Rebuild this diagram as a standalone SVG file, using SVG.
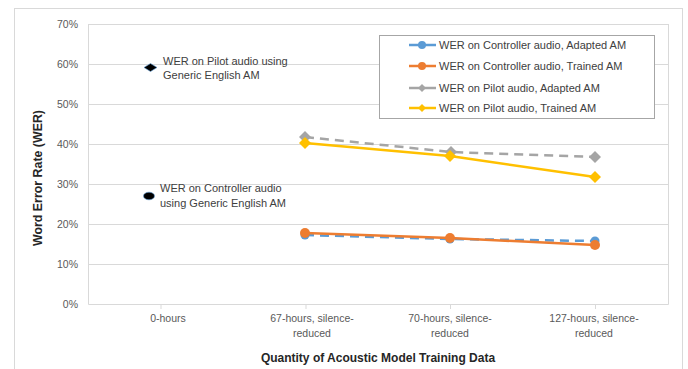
<svg xmlns="http://www.w3.org/2000/svg" width="688" height="369" viewBox="0 0 688 369">
<style>
text{font-family:"Liberation Sans",Arial,sans-serif;font-size:11px;fill:#404040}
.ax{fill:#595959;font-size:10.5px}
.grid{stroke:#D9D9D9;stroke-width:1;fill:none}
.ttl{font-weight:bold;font-size:12px;fill:#262626}
</style>
<defs>
<marker id="mb" markerWidth="10" markerHeight="10" refX="5" refY="5" markerUnits="userSpaceOnUse"><circle cx="5" cy="5" r="4.5" fill="#5B9BD5"/></marker>
<marker id="mo" markerWidth="12" markerHeight="12" refX="6" refY="6" markerUnits="userSpaceOnUse"><circle cx="6" cy="6" r="5" fill="#ED7D31"/></marker>
<marker id="mg" markerWidth="12" markerHeight="12" refX="6" refY="6" markerUnits="userSpaceOnUse"><path d="M0,6 L6,0 L12,6 L6,12 Z" fill="#A5A5A5"/></marker>
<marker id="my" markerWidth="12" markerHeight="12" refX="6" refY="6" markerUnits="userSpaceOnUse"><path d="M0,6 L6,0 L12,6 L6,12 Z" fill="#FFC000"/></marker>
</defs>
<rect x="0" y="0" width="688" height="369" fill="#fff"/>
<rect x="14.5" y="8.5" width="668" height="380" fill="none" stroke="#D9D9D9"/>
<g id="grid">
<path class="grid" d="M88,24.5H668M88,64.5H668M88,104.5H668M88,144.5H668M88,184.5H668M88,224.5H668M88,264.5H668"/>
<path d="M88.5,24V304.5H668.5V24" fill="none" stroke="#D9D9D9"/>
<path d="M161,304V309M306,304V309M450.5,304V309M595.5,304V309" stroke="#D9D9D9"/>
</g>
<g id="yaxis" text-anchor="end">
<text class="ax" x="78" y="28">70%</text>
<text class="ax" x="78" y="68">60%</text>
<text class="ax" x="78" y="108">50%</text>
<text class="ax" x="78" y="148">40%</text>
<text class="ax" x="78" y="188">30%</text>
<text class="ax" x="78" y="228">20%</text>
<text class="ax" x="78" y="268">10%</text>
<text class="ax" x="78" y="308">0%</text>
</g>
<g id="xaxis" text-anchor="middle">
<text class="ax" x="168" y="322">0-hours</text>
<text class="ax" x="312" y="322">67-hours, silence-</text>
<text class="ax" x="312" y="337">reduced</text>
<text class="ax" x="450" y="322">70-hours, silence-</text>
<text class="ax" x="450" y="337">reduced</text>
<text class="ax" x="594" y="322">127-hours, silence-</text>
<text class="ax" x="594" y="337">reduced</text>
</g>
<text class="ttl" x="378" y="362" text-anchor="middle">Quantity of Acoustic Model Training Data</text>
<text class="ttl" transform="translate(42,178) rotate(-90)" text-anchor="middle" textLength="136" lengthAdjust="spacingAndGlyphs">Word Error Rate (WER)</text>
<g id="connectors">
<polyline points="305,137 451,152 595,157" fill="none" stroke="#A5A5A5" stroke-width="2.5" stroke-dasharray="9,6" marker-start="url(#mg)" marker-mid="url(#mg)" marker-end="url(#mg)"/>
<polyline points="305,143 450,156 595,177" fill="none" stroke="#FFC000" stroke-width="2.5" marker-start="url(#my)" marker-mid="url(#my)" marker-end="url(#my)"/>
<polyline points="305,235 450,239 595,241" fill="none" stroke="#5B9BD5" stroke-width="2.5" stroke-dasharray="9,6" marker-start="url(#mb)" marker-mid="url(#mb)" marker-end="url(#mb)"/>
<polyline points="305,233 450,238 595,245" fill="none" stroke="#ED7D31" stroke-width="2.5" marker-start="url(#mo)" marker-mid="url(#mo)" marker-end="url(#mo)"/>
</g>
<g id="pilot-generic">
<path d="M144,67.5 L150.5,63.5 L157,67.5 L150.5,71.5 Z" fill="#000" stroke="#5B9BD5" stroke-width="0.6"/>
<text x="163" y="65">WER on Pilot audio using</text>
<text x="163" y="79">Generic English AM</text>
</g>
<g id="controller-generic">
<ellipse cx="149" cy="196" rx="5.5" ry="3.8" fill="#000" stroke="#5B9BD5" stroke-width="0.6"/>
<text x="160" y="192">WER on Controller audio</text>
<text x="160" y="207">using Generic English AM</text>
</g>
<g id="legend">
<rect x="379.5" y="35.5" width="275" height="83" fill="#fff" stroke="#A6A6A6"/>
<path d="M409,45H436" stroke="#5B9BD5" stroke-width="2.5"/>
<circle cx="422" cy="45" r="4" fill="#5B9BD5"/>
<text x="439" y="49">WER on Controller audio, Adapted AM</text>
<path d="M409,66H436" stroke="#ED7D31" stroke-width="2.5"/>
<circle cx="422" cy="66" r="4" fill="#ED7D31"/>
<text x="439" y="70">WER on Controller audio, Trained AM</text>
<path d="M409,88H436" stroke="#A5A5A5" stroke-width="2.5"/>
<path d="M418,88 L422,84 L426,88 L422,92 Z" fill="#A5A5A5"/>
<text x="439" y="92">WER on Pilot audio, Adapted AM</text>
<path d="M409,108H436" stroke="#FFC000" stroke-width="2.5"/>
<path d="M418,108 L422,104 L426,108 L422,112 Z" fill="#FFC000"/>
<text x="439" y="112">WER on Pilot audio, Trained AM</text>
</g>
</svg>
